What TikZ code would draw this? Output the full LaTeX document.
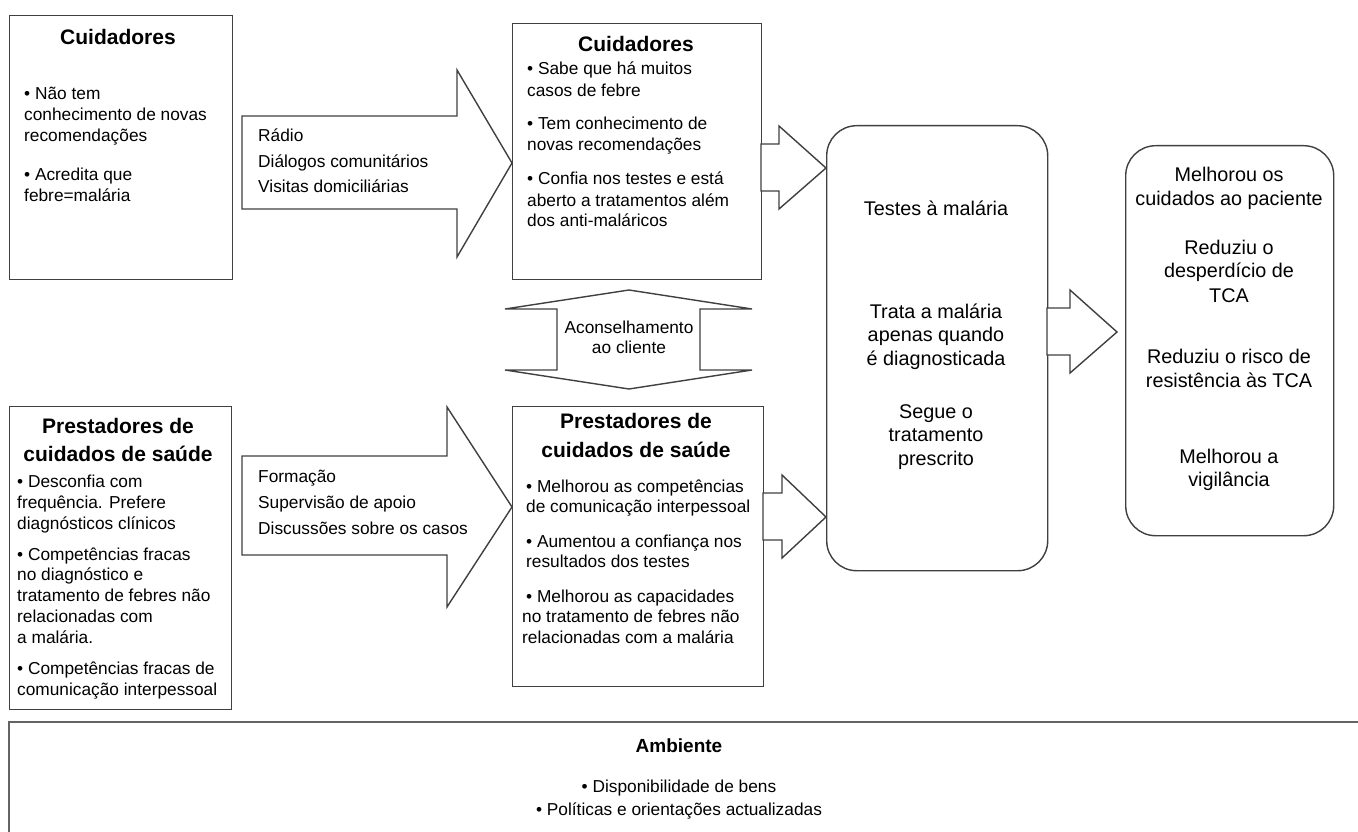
\documentclass[tikz,border=0pt]{standalone}
\usepackage{fontspec}
\setmainfont{Liberation Sans}
\definecolor{ln}{RGB}{64,64,64}
\definecolor{envln}{RGB}{100,100,100}
\newcommand\lefttext[3]{\parbox[t]{320pt}{\raggedright\fontsize{#1}{#2}\selectfont #3}}
\newcommand\midtext[3]{\parbox[t]{320pt}{\centering\fontsize{#1}{#2}\selectfont #3}}
\tikzset{
  box/.style={draw=ln, line width=1.4pt, rectangle, inner sep=0pt, anchor=north west},
  rbox/.style={box, rounded corners=30pt},
  blk/.style={draw=ln, line width=1.4pt, line join=miter, fill=white},
  lt/.style={inner sep=0pt, anchor=base west},
  ct/.style={inner sep=0pt, anchor=base},
}
\begin{document}
\begin{tikzpicture}[x=1pt,y=-1pt]
\useasboundingbox (0,0) rectangle (1358,832);
\fill[white] (0,0) rectangle (1358,832);

% boxes
\node[box, minimum width=223pt, minimum height=264pt] (cg0) at (9,15) {};
\node[box, minimum width=249pt, minimum height=256pt] (cg1) at (512,23) {};
\node[box, minimum width=222pt, minimum height=303pt] (hp0) at (9,406) {};
\node[box, minimum width=251pt, minimum height=280pt] (hp1) at (512,406) {};
\node[rbox, minimum width=221pt, minimum height=445pt] (out) at (826,125) {};
\node[rbox, minimum width=208pt, minimum height=390pt] (imp) at (1125,145) {};
\node[inner sep=0pt, minimum width=1349pt, minimum height=110pt, anchor=north west] (env) at (9,722) {};
\draw[envln, line width=2.2pt] (env.south west) -- (env.north west) -- (env.north east);

% block arrows
\draw[blk] (242,116) -- (457,116) -- (457,70) -- (512,163) -- (457,257) -- (457,209) -- (242,209) -- cycle;
\draw[blk] (242,456) -- (447,456) -- (447,407) -- (512,507) -- (447,607) -- (447,555) -- (242,555) -- cycle;
\draw[blk] (761,144) -- (779,144) -- (779,126) -- (826,168) -- (779,209) -- (779,191) -- (761,191) -- cycle;
\draw[blk] (763,493) -- (782,493) -- (782,475) -- (826,517) -- (782,558) -- (782,540) -- (763,540) -- cycle;
\draw[blk] (1047,308) -- (1070,308) -- (1070,290) -- (1117,332) -- (1070,373) -- (1070,355) -- (1047,355) -- cycle;
\draw[blk] (629,290) -- (752,309) -- (700,309) -- (700,370) -- (752,370) -- (629,389)
  -- (505,370) -- (557,370) -- (557,309) -- (505,309) -- cycle;

% top-left box text
\node[ct] (cg0t) at (118,45) {\midtext{21}{28}{\bfseries Cuidadores}};
\node[lt] (cg0a) at (24,100) {\lefttext{17.3}{21}{• Não tem\\conhecimento de novas\\recomendações}};
\node[lt] (cg0b) at (24,180) {\lefttext{17.3}{21}{• Acredita que\\febre=malária}};

% top-middle box text
\node[ct] (cg1t) at (636,52) {\midtext{21}{28}{\bfseries Cuidadores}};
\node[lt] (cg1a) at (527,75) {\lefttext{17.3}{22}{• Sabe que há muitos\\casos de febre}};
\node[lt] (cg1b) at (527,130) {\lefttext{17.3}{21}{• Tem conhecimento de\\novas recomendações}};
\node[lt] (cg1c) at (527,185) {\lefttext{17.3}{21}{• Confia nos testes e está\\aberto a tratamentos além\\dos anti-maláricos}};

% arrow texts
\node[lt] (a1t) at (258,142) {\lefttext{17.3}{25.5}{Rádio\\Diálogos comunitários\\Visitas domiciliárias}};
\node[lt] (a2t) at (258,482) {\lefttext{17.3}{26}{Formação\\Supervisão de apoio\\Discussões sobre os casos}};
\node[ct] (a3t) at (629,333) {\midtext{17.3}{20}{Aconselhamento\\ao cliente}};

% bottom-left box text
\node[ct] (hp0t) at (118,433) {\midtext{21}{28}{\bfseries Prestadores de\\cuidados de saúde}};
\node[lt] (hp0a) at (17,487) {\lefttext{17.3}{21}{• Desconfia com\\frequência. Prefere\\diagnósticos clínicos}};
\node[lt] (hp0b) at (17,560) {\lefttext{17.3}{20.8}{• Competências fracas\\no diagnóstico e\\tratamento de febres não\\relacionadas com\\a malária.}};
\node[lt] (hp0c) at (17,674) {\lefttext{17.3}{21}{• Competências fracas de\\comunicação interpessoal}};

% bottom-middle box text
\node[ct] (hp1t) at (636,428) {\midtext{21}{29}{\bfseries Prestadores de\\cuidados de saúde}};
\node[lt] (hp1a) at (526,492) {\lefttext{17.3}{20.5}{• Melhorou as competências\\de comunicação interpessoal}};
\node[lt] (hp1b) at (526,547) {\lefttext{17.3}{20.5}{• Aumentou a confiança nos\\resultados dos testes}};
\node[lt] (hp1c) at (522,602) {\lefttext{17.3}{20.5}{\hspace*{4pt}• Melhorou as capacidades\\no tratamento de febres não\\relacionadas com a malária}};

% behaviour box text
\node[ct] (outa) at (936,215) {\midtext{19.8}{24}{Testes à malária}};
\node[ct] (outb) at (936,318) {\midtext{19.8}{23.5}{Trata a malária\\apenas quando\\é diagnosticada}};
\node[ct] (outc) at (936,418) {\midtext{19.8}{23.5}{Segue o\\tratamento\\prescrito}};

% impact box text
\node[ct] (impa) at (1229,182) {\midtext{19.8}{24}{Melhorou os\\cuidados ao paciente}};
\node[ct] (impb) at (1229,254) {\midtext{19.8}{24}{Reduziu o\\desperdício de\\TCA}};
\node[ct] (impc) at (1229,363) {\midtext{19.8}{24}{Reduziu o risco de\\resistência às TCA}};
\node[ct] (impd) at (1229,463) {\midtext{19.8}{23}{Melhorou a\\vigilância}};

% environment text
\node[ct] (envt) at (679,752) {\midtext{19}{24}{\bfseries Ambiente}};
\node[ct] (enva) at (679,792) {\midtext{17.3}{23}{• Disponibilidade de bens\\• Políticas e orientações actualizadas}};
\end{tikzpicture}
\end{document}
